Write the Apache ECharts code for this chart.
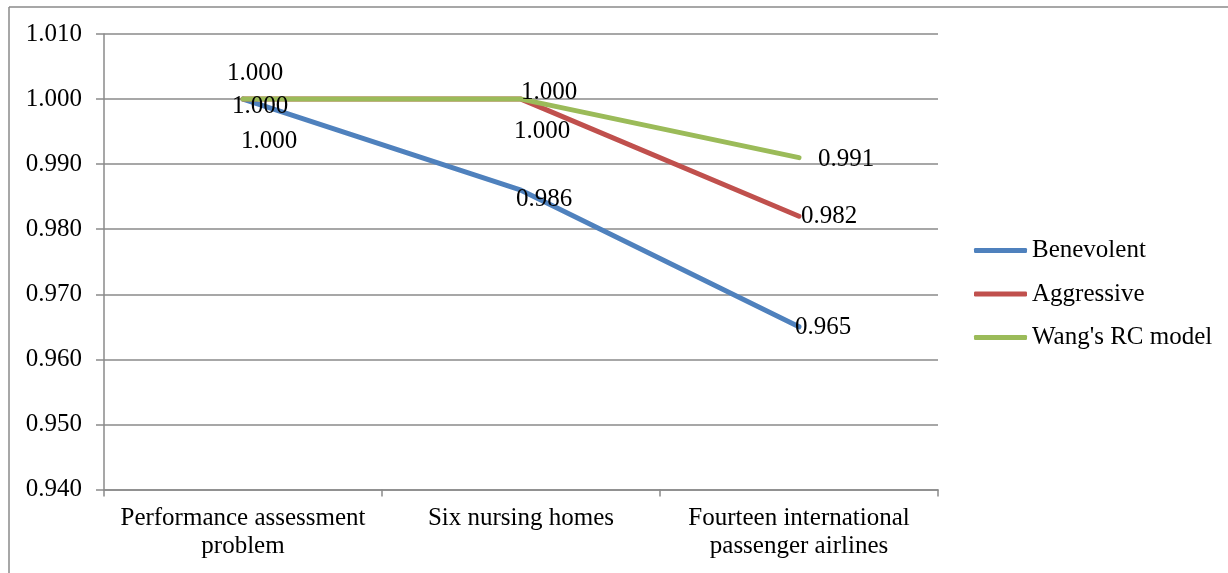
<!DOCTYPE html>
<html>
<head>
<meta charset="utf-8">
<script src="https://cdn.jsdelivr.net/npm/echarts@6/dist/echarts.min.js"></script>
<style>
  html, body { margin: 0; padding: 0; background: #fff; }
  #chart { width: 1228px; height: 573px; }
</style>
</head>
<body>
<div id="chart"></div>
<script>
// Problem sets compared along the x axis
const categories = [
  'Performance assessment\nproblem',
  'Six nursing homes',
  'Fourteen international\npassenger airlines'
];

// Efficiency scores by approach
const benevolent = [1.000, 0.986, 0.965];
const aggressive = [1.000, 1.000, 0.982];
const wangRC = [1.000, 1.000, 0.991];

// Y axis range and step
const yMin = 0.94;
const yMax = 1.01;
const yStep = 0.01;

// Label offsets from each point, in pixels
const benevolentLabelOffsets = [[26, 42], [23, 9], [24, 1]];
const aggressiveLabelOffsets = [[17, 7], [21, 32], [30, 0]];
const wangLabelOffsets = [[12, -26], [28, -7], [47, 2]];

const FONT = '"Liberation Serif", "Times New Roman", serif';
const FONT_SIZE = 25;
const GRID_COLOR = '#8a8a8a';
const COLORS = { benevolent: '#4F81BD', aggressive: '#C0504D', wang: '#9BBB59' };

function buildData(values, offsets) {
  return values.map((v, i) => ({
    value: v,
    label: { offset: offsets[i] }
  }));
}

function lineSeries(name, color, values, offsets) {
  return {
    name: name,
    type: 'line',
    data: buildData(values, offsets),
    symbol: 'circle',
    symbolSize: 1,
    showSymbol: true,
    itemStyle: { color: color, opacity: 0 },
    lineStyle: { color: color, width: 5, cap: 'round' },
    label: {
      show: true,
      position: 'inside',
      align: 'center',
      verticalAlign: 'middle',
      color: '#000',
      fontFamily: FONT,
      fontSize: FONT_SIZE,
      opacity: 1,
      formatter: p => p.value.toFixed(3)
    },
    emphasis: { disabled: true },
    animation: false
  };
}

function legendItem(name, color) {
  return { name: name, icon: 'roundRect', itemStyle: { color: color, opacity: 1 } };
}

const chart = echarts.init(document.getElementById('chart'), null, { renderer: 'canvas' });

chart.setOption({
  backgroundColor: '#fff',
  animation: false,
  grid: { left: 104, right: 290, top: 34, bottom: 83.5, containLabel: false },
  legend: {
    orient: 'vertical',
    left: 969,
    top: 233,
    itemWidth: 53,
    itemHeight: 5,
    itemGap: 18.5,
    itemTextGap: 4,
    textStyle: { color: '#000', fontFamily: FONT, fontSize: FONT_SIZE, lineHeight: 25 },
    data: [
      legendItem('Benevolent', COLORS.benevolent),
      legendItem('Aggressive', COLORS.aggressive),
      legendItem("Wang's RC model", COLORS.wang)
    ]
  },
  xAxis: {
    type: 'category',
    data: categories,
    boundaryGap: true,
    axisLine: { show: true, lineStyle: { color: GRID_COLOR, width: 1.5 } },
    axisTick: { show: true, length: 7, lineStyle: { color: GRID_COLOR, width: 1.5 } },
    axisLabel: {
      color: '#000',
      fontFamily: FONT,
      fontSize: FONT_SIZE,
      lineHeight: 28,
      margin: 15,
      interval: 0
    },
    splitLine: { show: false }
  },
  yAxis: {
    type: 'value',
    min: yMin,
    max: yMax,
    interval: yStep,
    axisLine: { show: true, lineStyle: { color: GRID_COLOR, width: 1.5 } },
    axisTick: { show: true, length: 8, lineStyle: { color: GRID_COLOR, width: 1.5 } },
    axisLabel: {
      color: '#000',
      fontFamily: FONT,
      fontSize: FONT_SIZE,
      margin: 22,
      formatter: v => v.toFixed(3)
    },
    splitLine: { show: true, lineStyle: { color: GRID_COLOR, width: 1.5 } }
  },
  graphic: [
    { type: 'line', shape: { x1: 9, y1: 7, x2: 1228, y2: 7 }, style: { stroke: '#8a8a8a', lineWidth: 1.5 }, silent: true },
    { type: 'line', shape: { x1: 9, y1: 7, x2: 9, y2: 573 }, style: { stroke: '#8a8a8a', lineWidth: 1.5 }, silent: true }
  ],
  series: [
    lineSeries('Benevolent', COLORS.benevolent, benevolent, benevolentLabelOffsets),
    lineSeries('Aggressive', COLORS.aggressive, aggressive, aggressiveLabelOffsets),
    lineSeries("Wang's RC model", COLORS.wang, wangRC, wangLabelOffsets)
  ]
});
</script>
</body>
</html>
